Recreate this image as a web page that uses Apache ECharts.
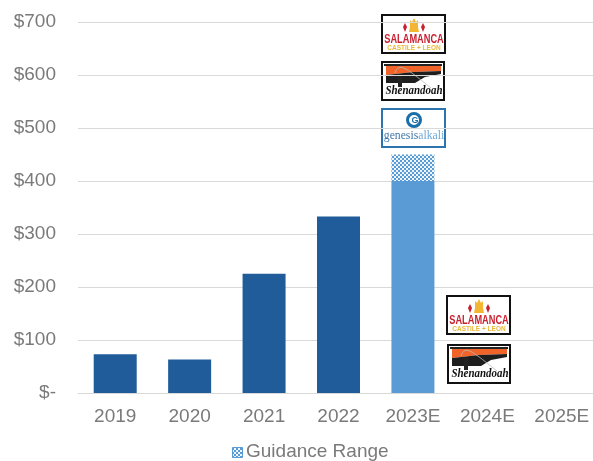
<!DOCTYPE html>
<html><head><meta charset="utf-8">
<style>html,body{margin:0;padding:0;background:#fff;overflow:hidden}#c{width:593px;height:461px}</style>
<script src="https://cdn.jsdelivr.net/npm/echarts@6/dist/echarts.min.js"></script>
</head><body><div id="c"></div>
<script>
const categories=['2019','2020','2021','2022','2023E','2024E','2025E'];
const actuals=[73,63,225,333,null,null,null];
const guidanceLow=[null,null,null,null,400,null,null];
const guidanceRange=[null,null,null,null,50,null,null];
const DARK='#1f5c99',LIGHT='#5b9bd5',GREY='#7a7a7a',GRID='#d9d9d9';
const chart=echarts.init(document.getElementById('c'),null,{renderer:'canvas'});
function checker(){
  const p=document.createElement('canvas');p.width=4;p.height=4;
  const x=p.getContext('2d');x.fillStyle='#eef5fb';x.fillRect(0,0,4,4);
  x.fillStyle=LIGHT;x.fillRect(0,0,2,2);x.fillRect(2,2,2,2);
  return {image:p,repeat:'repeat'};
}
function salamanca(x,y){return {type:'group',x,y,silent:true,children:[
  {type:'rect',shape:{x:1,y:1,width:63,height:38},style:{fill:'#fff',stroke:'#111',lineWidth:2}},
  {type:'polygon',shape:{points:[[29,13],[29,6],[31,8],[33,4],[35,8],[37,6],[37,13],[38,18],[28,18]]},style:{fill:'#f2b632'}},
  {type:'polygon',shape:{points:[[24,9],[26,13],[24,18],[22,13]]},style:{fill:'#c8202f'}},
  {type:'polygon',shape:{points:[[42,9],[44,13],[42,18],[40,13]]},style:{fill:'#c8202f'}},
  {type:'text',x:33,y:25.5,scaleX:0.71,style:{text:'SALAMANCA',fill:'#c8202f',font:'900 13px "Liberation Sans"',align:'center',verticalAlign:'middle'}},
  {type:'text',x:33,y:34,style:{text:'CASTILE + LEON',fill:'#e9b93a',font:'bold 6.5px "Liberation Sans"',align:'center',verticalAlign:'middle'}}
]};}
function shenandoah(x,y){return {type:'group',x,y,silent:true,children:[
  {type:'rect',shape:{x:1,y:1,width:62,height:38},style:{fill:'#fff',stroke:'#111',lineWidth:2}},
  {type:'rect',shape:{x:3,y:3,width:58,height:2},style:{fill:'#222'}},
  {type:'polygon',shape:{points:[[5,5],[60,5],[60,10],[32,11],[5,14]]},style:{fill:'#f0642a'}},
  {type:'polygon',shape:{points:[[5,14],[32,11],[60,10],[60,13],[44,16],[34,22],[5,22]]},style:{fill:'#1e1e1e'}},
  {type:'bezierCurve',shape:{x1:14,y1:12,cpx1:18,cpy1:0,cpx2:26,cpy2:8,x2:50,y2:27},style:{fill:'none',stroke:'#bbb',lineWidth:0.8}},
  {type:'rect',shape:{x:17,y:14,width:4,height:12},style:{fill:'#222'}},
  {type:'text',x:33,y:30,scaleX:0.95,style:{text:'Shenandoah',fill:'#111',font:'italic bold 11.5px "Liberation Serif"',align:'center',verticalAlign:'middle'}}
]};}
function genesis(x,y){return {type:'group',x,y,silent:true,children:[
  {type:'rect',shape:{x:1,y:1,width:63,height:38},style:{fill:'#fff',stroke:'#2e75b0',lineWidth:2}},
  {type:'circle',shape:{cx:33,cy:12,r:6.5},style:{fill:'none',stroke:'#1b6ea8',lineWidth:3}},
  {type:'text',x:34,y:12.5,style:{text:'G',fill:'#1b6ea8',font:'bold 9px "Liberation Sans"',align:'center',verticalAlign:'middle'}},
  {type:'text',x:33,y:28,scaleX:0.9,style:{text:'{a|genesis}{b|alkali}',align:'center',verticalAlign:'middle',rich:{
    a:{fill:'#3f78a8',font:'13px "Liberation Serif"'},b:{fill:'#6fa8d6',font:'13px "Liberation Serif"'}}}}
]};}
chart.setOption({
  animation:false,
  textStyle:{fontFamily:'"Liberation Sans",Arial,sans-serif'},
  grid:{left:78,right:-6,top:22,bottom:68,outerBoundsMode:'none'},
  legend:{show:false},
  xAxis:{type:'category',data:categories,
    axisLine:{lineStyle:{color:GRID,width:1}},axisTick:{show:false},
    axisLabel:{color:GREY,fontSize:19,margin:14}},
  yAxis:{type:'value',min:0,max:700,interval:100,
    axisLine:{show:false},axisTick:{show:false},
    splitLine:{lineStyle:{color:GRID,width:1}},
    axisLabel:{color:GREY,fontSize:19,margin:22,formatter:v=>v===0?'$-':'$'+v}},
  series:[
    {name:'Actual',type:'bar',stack:'t',barWidth:43,data:actuals,itemStyle:{color:DARK}},
    {name:'Guidance Low',type:'bar',stack:'t',barWidth:43,data:guidanceLow,itemStyle:{color:LIGHT}},
    {name:'Guidance Range',type:'bar',stack:'t',barWidth:43,data:guidanceRange,itemStyle:{color:checker()}}
  ],
  graphic:[
    salamanca(381,14),shenandoah(381,61),genesis(381,108),
    salamanca(446,295),shenandoah(447,344),
    {type:'rect',shape:{x:232.5,y:447.5,width:10,height:10},style:{fill:checker(),stroke:LIGHT,lineWidth:1},silent:true},
    {type:'text',x:246,y:452,style:{text:'Guidance Range',fill:GREY,font:'19px "Liberation Sans"',verticalAlign:'middle'},silent:true}
  ]
});
</script></body></html>
